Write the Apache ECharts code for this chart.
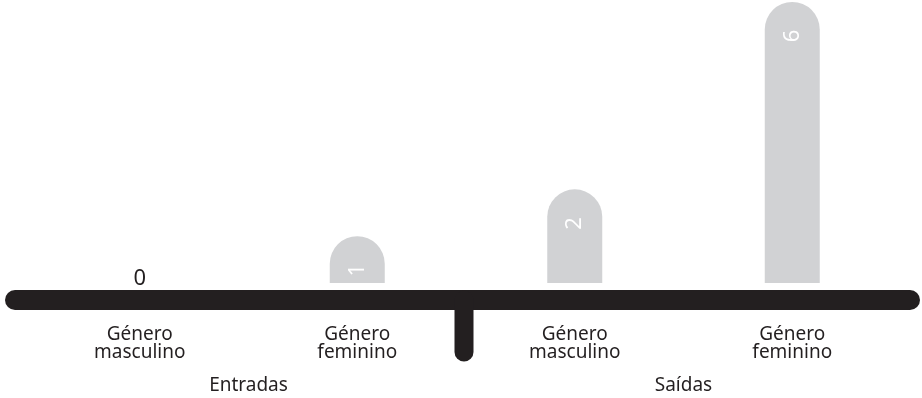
<!DOCTYPE html>
<html>
<head>
<meta charset="utf-8">
<script src="https://cdn.jsdelivr.net/npm/echarts@6/dist/echarts.min.js"></script>
<style>
html,body{margin:0;padding:0;background:#fff;}
#chart{width:922px;height:398px;}
</style>
</head>
<body>
<div id="chart"></div>
<script>
var categories = ['Género\nmasculino', 'Género\nfeminino', 'Género\nmasculino', 'Género\nfeminino'];
var groups = ['Entradas', 'Saídas'];
var values = [0, 1, 2, 6];

var dark = '#231f20';
var chart = echarts.init(document.getElementById('chart'), null, {renderer: 'canvas'});

var seriesData = values.map(function (v) {
  if (v === 0) {
    return {
      value: v,
      label: {
        show: true, position: 'top', distance: 0, offset: [0, -4], rotate: 0,
        color: dark, fontSize: 22, fontFamily: 'Noto Sans'
      }
    };
  }
  return {value: v};
});

chart.setOption({
  animation: false,
  backgroundColor: '#fff',
  grid: {left: 31, right: 21, top: 2, bottom: 115},
  xAxis: [{
    type: 'category',
    data: categories,
    position: 'bottom',
    axisLine: {show: false},
    axisTick: {show: false},
    axisLabel: {
      margin: 43, color: dark, fontSize: 19, lineHeight: 18,
      fontFamily: 'Noto Sans', verticalAlign: 'top'
    }
  }, {
    type: 'category',
    data: groups,
    position: 'bottom',
    axisLine: {show: false},
    axisTick: {show: false},
    axisLabel: {
      margin: 94, color: dark, fontSize: 19, lineHeight: 18,
      fontFamily: 'Noto Sans', verticalAlign: 'top'
    }
  }],
  yAxis: {
    type: 'value', min: 0, max: 6, show: false,
    splitLine: {show: false}
  },
  graphic: [{
    type: 'line', z: 10,
    shape: {x1: 15, y1: 300, x2: 910, y2: 300},
    style: {stroke: dark, lineWidth: 20, lineCap: 'round'}
  }, {
    type: 'line', z: 10,
    shape: {x1: 464, y1: 300, x2: 464, y2: 352},
    style: {stroke: dark, lineWidth: 19, lineCap: 'round'}
  }],
  series: [{
    type: 'bar',
    xAxisIndex: 0,
    data: seriesData,
    barWidth: 55,
    itemStyle: {color: '#d1d2d4', borderRadius: [27.5, 27.5, 0, 0]},
    label: {
      show: true,
      position: ['50%', 34],
      align: 'center',
      verticalAlign: 'middle',
      rotate: 90,
      color: '#ffffff',
      fontSize: 22,
      fontFamily: 'Noto Sans'
    }
  }]
});
</script>
</body>
</html>
